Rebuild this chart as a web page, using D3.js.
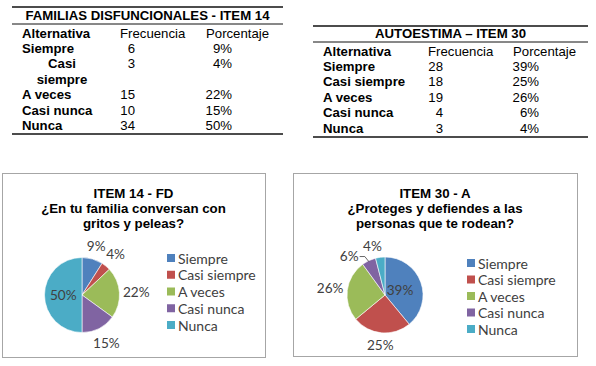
<!DOCTYPE html>
<html>
<head>
<meta charset="utf-8">
<script src="https://cdn.jsdelivr.net/npm/d3@7"></script>
<style>
  body { margin: 0; background: #fff; }
  svg { display: block; }
</style>
</head>
<body>
<svg id="canvas" width="596" height="366"></svg>
<script>
'use strict';

// data
const alternativas = ['Siempre', 'Casi siempre', 'A veces', 'Casi nunca', 'Nunca'];
const frecFD = [6, 3, 15, 10, 34];
const pctFD = [9, 4, 22, 15, 50];
const frecAE = [28, 18, 19, 4, 3];
const pctAE = [39, 25, 26, 6, 4];
const headers = ['Alternativa', 'Frecuencia', 'Porcentaje'];

const colors = ['#4F81BD', '#C0504D', '#9BBB59', '#8064A2', '#4BACC6'];
const tableFont = '"Liberation Sans", Arial, sans-serif';
const chartFont = 'Lato, "Open Sans", sans-serif';

const svg = d3.select('#canvas');

function drawTable(opt) {
    const g = svg.append('g');
    const fs = 13.2;
    // rules
    [[opt.top, 1.6], [opt.titleRule, 1], [opt.bottom, 1.6]].forEach(function(l) {
        g.append('line')
            .attr('x1', opt.x0).attr('x2', opt.x1)
            .attr('y1', l[0]).attr('y2', l[0])
            .attr('stroke', '#111').attr('stroke-width', l[1]);
    });
    g.append('text')
        .attr('x', (opt.x0 + opt.x1) / 2).attr('y', opt.titleY)
        .attr('text-anchor', 'middle').attr('dominant-baseline', 'central')
        .style('font', 'bold ' + fs + 'px ' + tableFont)
        .text(opt.title);

    const rowY = function(i) { return opt.firstRow + i * opt.step; };
    g.append('text').attr('x', opt.colA).attr('y', rowY(0))
        .attr('dominant-baseline', 'central')
        .style('font', 'bold ' + fs + 'px ' + tableFont).text(headers[0]);
    g.append('text').attr('x', opt.colF).attr('y', rowY(0))
        .attr('dominant-baseline', 'central')
        .style('font', fs + 'px ' + tableFont).text(headers[1]);
    g.append('text').attr('x', opt.colP).attr('y', rowY(0))
        .attr('dominant-baseline', 'central')
        .style('font', fs + 'px ' + tableFont).text(headers[2]);

    let line = 1;
    alternativas.forEach(function(name, i) {
        const y = rowY(line);
        const t = g.append('text').attr('x', opt.colA).attr('y', y)
            .attr('dominant-baseline', 'central')
            .style('font', 'bold ' + fs + 'px ' + tableFont).text(name);
        let extra = 0;
        if (opt.wrapWidth && t.node().getComputedTextLength() > opt.wrapWidth) {
            // word-wrapped cell, centred in its column
            t.remove();
            name.split(' ').forEach(function(w, k) {
                g.append('text').attr('x', opt.colA + opt.wrapWidth / 2).attr('y', rowY(line + k))
                    .attr('text-anchor', 'middle').attr('dominant-baseline', 'central')
                    .style('font', 'bold ' + fs + 'px ' + tableFont).text(w);
            });
            extra = name.split(' ').length - 1;
        }
        g.append('text').attr('x', opt.rightF).attr('y', y)
            .attr('text-anchor', 'end').attr('dominant-baseline', 'central')
            .style('font', fs + 'px ' + tableFont).text(opt.frec[i]);
        g.append('text').attr('x', opt.rightP).attr('y', y)
            .attr('text-anchor', 'end').attr('dominant-baseline', 'central')
            .style('font', fs + 'px ' + tableFont).text(opt.pct[i] + '%');
        line += 1 + extra;
    });
}

drawTable({
    title: 'FAMILIAS DISFUNCIONALES - ITEM 14', frec: frecFD, pct: pctFD,
    x0: 12, x1: 283, top: 7, titleRule: 24, bottom: 134, titleY: 15.5,
    firstRow: 33, step: 15.4, colA: 22, colF: 120, colP: 206,
    rightF: 135, rightP: 232, wrapWidth: 80
});

drawTable({
    title: 'AUTOESTIMA \u2013 ITEM 30', frec: frecAE, pct: pctAE,
    x0: 313, x1: 588, top: 26, titleRule: 42, bottom: 137, titleY: 33.5,
    firstRow: 51, step: 15.4, colA: 323, colF: 428, colP: 513,
    rightF: 443, rightP: 539, wrapWidth: 0
});

function drawPie(opt) {
    const g = svg.append('g');
    g.append('rect')
        .attr('x', opt.frame[0] + 0.5).attr('y', opt.frame[1] + 0.5)
        .attr('width', opt.frame[2]).attr('height', opt.frame[3])
        .attr('fill', '#fff').attr('stroke', '#a6a6a6').attr('stroke-width', 1);

    const tx = opt.frame[0] + opt.frame[2] / 2;
    opt.title.forEach(function(t, i) {
        g.append('text')
            .attr('x', tx).attr('y', opt.titleY + i * 15.3)
            .attr('text-anchor', 'middle').attr('dominant-baseline', 'central')
            .style('font', 'bold 13.3px ' + tableFont).attr('fill', '#000')
            .text(t);
    });

    const pie = d3.pie().sort(null).value(function(d) { return d; });
    const arcs = pie(opt.values);
    const arc = d3.arc().innerRadius(0).outerRadius(opt.r);

    const pg = g.append('g').attr('transform', 'translate(' + opt.cx + ',' + opt.cy + ')');
    pg.selectAll('path')
        .data(arcs)
        .enter().append('path')
            .attr('d', arc)
            .attr('fill', function(d, i) { return colors[i]; })
            .attr('stroke', '#fff').attr('stroke-width', 0.6);

    arcs.forEach(function(d, i) {
        const label = pg.append('text')
            .attr('text-anchor', 'middle').attr('dominant-baseline', 'central')
            .style('font', '13.6px ' + chartFont).attr('fill', '#404040')
            .text(opt.values[i] + '%');
        const mid = (d.startAngle + d.endAngle) / 2;
        let x, y;
        if (opt.inside.indexOf(i) >= 0) {
            x = Math.sin(mid) * opt.r * opt.insideR;
            y = -Math.cos(mid) * opt.r * opt.insideR;
        } else {
            const bb = label.node().getBBox();
            const a = mid + (opt.nudge[i] || 0) * Math.PI / 180;
            const s = Math.sin(a), c = Math.cos(a);
            const dist = opt.r + 4 + Math.abs(bb.width / 2 * s) + Math.abs(bb.height / 2 * c) - 1;
            x = dist * s;
            y = -dist * c;
            if (Math.abs(opt.nudge[i] || 0) > 10) {
                // leader line back to the slice
                const ex = Math.sin(mid) * opt.r, ey = -Math.cos(mid) * opt.r;
                const lx = x + bb.width / 2 + 1;
                pg.append('path')
                    .attr('d', 'M' + lx + ',' + (y + 1) + 'H' + (ex - 4) + 'L' + ex + ',' + (ey + 1))
                    .attr('fill', 'none').attr('stroke', '#404040').attr('stroke-width', 0.8);
            }
        }
        label.attr('x', x).attr('y', y);
    });

    const lg = g.append('g');
    alternativas.forEach(function(name, i) {
        const y = opt.legendY + i * opt.legendStep;
        lg.append('rect')
            .attr('x', opt.legendX).attr('y', y - 4)
            .attr('width', 8).attr('height', 8)
            .attr('fill', colors[i]);
        lg.append('text')
            .attr('x', opt.legendX + 11).attr('y', y)
            .attr('dominant-baseline', 'central')
            .style('font', '14px ' + chartFont).attr('fill', '#404040')
            .text(name);
    });
}

drawPie({
    frame: [2, 173, 263, 184],
    title: ['ITEM 14 - FD', '\u00bfEn tu familia conversan con', 'gritos y peleas?'],
    titleY: 193, values: pctFD,
    cx: 82, cy: 295, r: 37.5, inside: [4], insideR: 0.5, nudge: [],
    legendX: 167, legendY: 258, legendStep: 16.75
});

drawPie({
    frame: [293, 173, 284, 183],
    title: ['ITEM 30 - A', '\u00bfProteges y defiendes a las', 'personas que te rodean?'],
    titleY: 193, values: pctAE,
    cx: 385, cy: 295, r: 38, inside: [0], insideR: 0.42, nudge: [0, 0, 0, -17, -7],
    legendX: 467, legendY: 263, legendStep: 16.5
});
</script>
</body>
</html>
